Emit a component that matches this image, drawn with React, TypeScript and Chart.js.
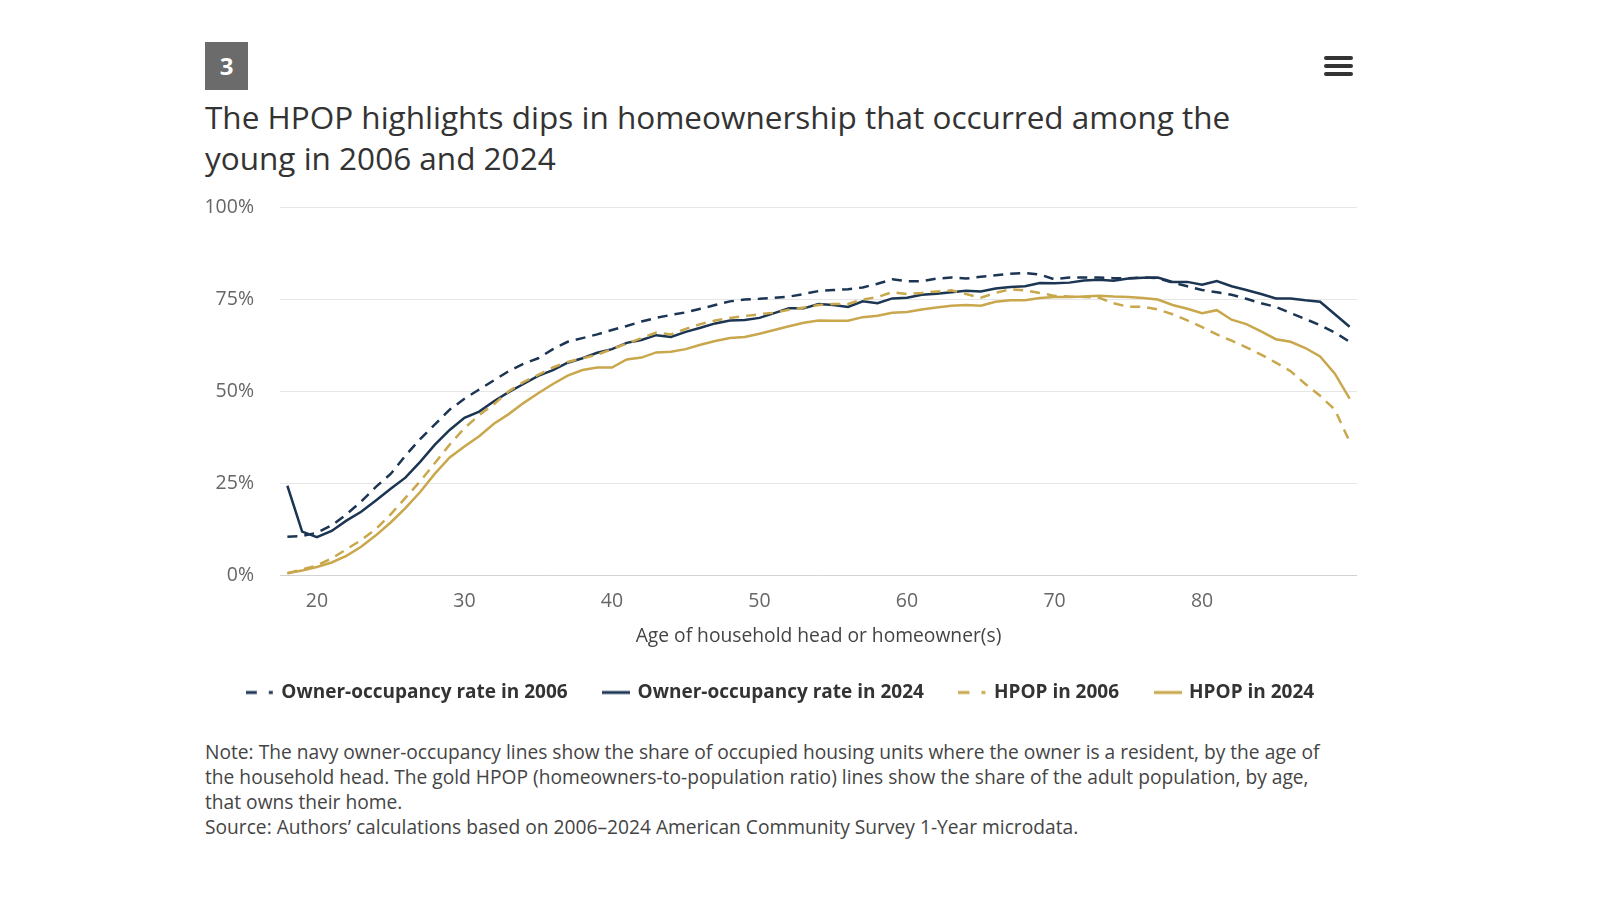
import React, { useEffect, useRef } from "react";
import { Chart, registerables } from "chart.js";

Chart.register(...registerables);

const ages = [
  18, 19, 20, 21, 22, 23, 24, 25, 26, 27, 28, 29, 30, 31, 32, 33, 34, 35, 36, 37,
  38, 39, 40, 41, 42, 43, 44, 45, 46, 47, 48, 49, 50, 51, 52, 53, 54, 55, 56, 57,
  58, 59, 60, 61, 62, 63, 64, 65, 66, 67, 68, 69, 70, 71, 72, 73, 74, 75, 76, 77,
  78, 79, 80, 81, 82, 83, 84, 85, 86, 87, 88, 89, 90,
];

const ownerOcc2006 = [
  10.4, 10.6, 11.5, 13.5, 16.5, 20, 24, 27.5, 32.5, 37, 41, 45, 48, 50.5, 53, 55.5, 57.5, 59, 61.5, 63.5,
  64.5, 65.5, 66.7, 67.8, 69, 70, 70.8, 71.5, 72.5, 73.5, 74.5, 75, 75.2, 75.5, 75.8, 76.5, 77.3, 77.6, 77.8, 78.3,
  79.3, 80.5, 80, 80, 80.7, 81, 80.7, 81.2, 81.6, 82, 82.2, 81.8, 80.5, 81, 81, 81, 80.8, 80.8, 81, 80.8,
  79.6, 78.6, 77.6, 77, 76.3, 75.2, 74, 73, 71.3, 69.7, 68, 66, 63.5,
];

const ownerOcc2024 = [
  24.3, 11.8, 10.3, 12, 14.8, 17.2, 20.3, 23.5, 26.5, 30.8, 35.5, 39.5, 42.8, 44.5, 47.3, 49.8, 52, 54.2, 55.8, 57.8,
  59, 60.5, 61.5, 63.2, 64, 65.3, 64.8, 66.2, 67.3, 68.5, 69.3, 69.4, 70, 71.3, 72.6, 72.6, 73.8, 73.5, 73, 74.5,
  74, 75.3, 75.5, 76.3, 76.6, 77, 77.4, 77.2, 78, 78.4, 78.6, 79.5, 79.4, 79.6, 80.2, 80.4, 80.1, 80.7, 80.9, 81,
  79.8, 79.8, 79, 80, 78.6, 77.6, 76.5, 75.3, 75.3, 74.8, 74.4, 71, 67.6,
];

const hpop2006 = [
  0.5, 1.5, 2.6, 4.5, 7, 9.5, 12.5, 16.5, 21, 25.5, 30.5, 35.5, 40, 43.5, 46.5, 50, 52.5, 54.5, 56.5, 58,
  59, 60, 61.5, 63, 64.5, 66, 65.5, 67, 68.3, 69.3, 70, 70.5, 71, 71.4, 72.2, 72.8, 73.5, 73.8, 73.8, 75,
  75.7, 77, 76.5, 76.8, 77.2, 77.5, 76.5, 75.5, 76.8, 77.8, 77.5, 76.8, 76, 75.8, 75.7, 75.5, 74, 73, 73, 72.3,
  71, 69.3, 67.5, 65.5, 63.8, 62, 60, 57.8, 55.5, 52, 48.8, 45, 36.3,
];

const hpop2024 = [
  0.5, 1.2, 2.2, 3.4, 5.2, 7.7, 10.8, 14.3, 18.2, 22.6, 27.6, 32, 35, 37.8, 41.2, 43.8, 46.8, 49.5, 52, 54.3,
  55.8, 56.5, 56.5, 58.7, 59.2, 60.6, 60.8, 61.5, 62.7, 63.7, 64.5, 64.8, 65.7, 66.7, 67.7, 68.7, 69.3, 69.2, 69.2, 70.2,
  70.6, 71.4, 71.6, 72.3, 72.8, 73.3, 73.5, 73.3, 74.4, 74.8, 74.8, 75.4, 75.7, 75.7, 75.8, 76, 75.8, 75.7, 75.4, 75,
  73.5, 72.5, 71.3, 72.1, 69.5, 68.3, 66.3, 64.2, 63.5, 61.8, 59.5, 54.8, 48,
];

const seriesLabels = [
  "Owner-occupancy rate in 2006",
  "Owner-occupancy rate in 2024",
  "HPOP in 2006",
  "HPOP in 2024",
];

const xTicks = [20, 30, 40, 50, 60, 70, 80];
const yTicks = [0, 25, 50, 75, 100];

const titleLines = [
  "The HPOP highlights dips in homeownership that occurred among the",
  "young in 2006 and 2024",
];
const noteLines = [
  "Note: The navy owner-occupancy lines show the share of occupied housing units where the owner is a resident, by the age of",
  "the household head. The gold HPOP (homeowners-to-population ratio) lines show the share of the adult population, by age,",
  "that owns their home.",
  "Source: Authors’ calculations based on 2006–2024 American Community Survey 1-Year microdata.",
];
const xAxisTitle = "Age of household head or homeowner(s)";

const NAVY = "#1b3553";
const GOLD = "#c9a74c";
const FONT = "'Open Sans', 'Noto Sans', sans-serif";
const DASH = [10, 7];

function makeSymbol(color: string, dashed: boolean): HTMLCanvasElement {
  const c = document.createElement("canvas");
  c.width = 28;
  c.height = 6;
  const ctx = c.getContext("2d")!;
  ctx.strokeStyle = color;
  ctx.lineWidth = 3;
  ctx.beginPath();
  if (dashed) {
    ctx.moveTo(0, 3);
    ctx.lineTo(11, 3);
    ctx.moveTo(23, 3);
    ctx.lineTo(27, 3);
  } else {
    ctx.moveTo(0, 3);
    ctx.lineTo(28, 3);
  }
  ctx.stroke();
  return c;
}

function toPoints(values: number[]) {
  return ages.map((a, i) => ({ x: a, y: values[i] }));
}

function LineChart() {
  const ref = useRef<HTMLCanvasElement | null>(null);

  useEffect(() => {
    if (!ref.current) return;
    const specs = [
      { values: ownerOcc2006, color: NAVY, dashed: true },
      { values: ownerOcc2024, color: NAVY, dashed: false },
      { values: hpop2006, color: GOLD, dashed: true },
      { values: hpop2024, color: GOLD, dashed: false },
    ];
    const chart = new Chart(ref.current, {
      type: "line",
      data: {
        datasets: specs.map((s, i) => ({
          label: seriesLabels[i],
          data: toPoints(s.values),
          borderColor: s.color,
          backgroundColor: s.color,
          borderWidth: 2.5,
          borderDash: s.dashed ? DASH : [],
          pointRadius: 0,
          pointHoverRadius: 0,
          pointStyle: makeSymbol(s.color, s.dashed),
          tension: 0,
          fill: false,
          order: specs.length - i,
        })),
      },
      options: {
        animation: false,
        responsive: false,
        maintainAspectRatio: false,
        events: [],
        layout: { padding: { top: 0, right: 25, bottom: 0, left: 25 } },
        plugins: {
          legend: {
            position: "bottom",
            align: "center",
            labels: {
              usePointStyle: true,
              pointStyleWidth: 24,
              padding: 36.5,
              color: "#333333",
              font: { family: FONT, size: 19, weight: "bold" },
              sort: (a: any, b: any) => a.datasetIndex - b.datasetIndex,
            },
          },
          tooltip: { enabled: false },
        },
        scales: {
          x: {
            type: "linear",
            min: 17.5,
            max: 90.5,
            afterBuildTicks: (s: any) => {
              s.ticks = xTicks.map((v) => ({ value: v }));
            },
            afterFit: (s: any) => {
              s.height = 71.5;
            },
            grid: { display: false, drawTicks: false },
            border: { display: false },
            ticks: {
              padding: 14.3,
              color: "#666666",
              autoSkip: false,
              maxRotation: 0,
              font: { family: FONT, size: 19.5, lineHeight: 1.2 },
            },
            title: {
              display: true,
              text: xAxisTitle,
              color: "#444444",
              font: { family: FONT, size: 19.25, lineHeight: 1.2 },
              padding: { top: 0, bottom: -2 },
            },
          },
          y: {
            min: 0,
            max: 100,
            afterBuildTicks: (s: any) => {
              s.ticks = yTicks.map((v) => ({ value: v }));
            },
            afterFit: (s: any) => {
              s.width = 75;
            },
            grid: {
              drawTicks: false,
              color: (ctx: any) => (ctx.tick && ctx.tick.value === 0 ? "#d2d2d2" : "#e6e6e6"),
              lineWidth: 1,
            },
            border: { display: false },
            ticks: {
              padding: 26,
              color: "#666666",
              font: { family: FONT, size: 19.5, lineHeight: 1.2 },
              callback: (v: any) => `${v}%`,
            },
          },
        },
      },
    });
    return () => chart.destroy();
  }, []);

  return (
    <canvas
      ref={ref}
      width={1202}
      height={542}
      style={{ position: "absolute", left: 180, top: 170, width: 1202, height: 542 }}
    />
  );
}

export default function App() {
  return (
    <div
      style={{
        position: "absolute",
        left: 0,
        top: 0,
        width: 1600,
        height: 900,
        background: "#ffffff",
        fontFamily: FONT,
        overflow: "hidden",
      }}
    >
      <div
        style={{
          position: "absolute",
          left: 205,
          top: 42,
          width: 43,
          height: 48,
          background: "#6b6b6b",
          color: "#ffffff",
          fontWeight: 700,
          fontSize: 24,
          lineHeight: "48px",
          textAlign: "center",
        }}
      >
        3
      </div>
      {[56, 64, 72].map((t) => (
        <div
          key={t}
          style={{
            position: "absolute",
            left: 1324,
            top: t,
            width: 29,
            height: 4,
            borderRadius: 2,
            background: "#333333",
          }}
        />
      ))}
      <div
        style={{
          position: "absolute",
          left: 205,
          top: 96,
          fontSize: 31.5,
          lineHeight: "41px",
          color: "#333333",
          whiteSpace: "nowrap",
        }}
      >
        {titleLines.map((l, i) => (
          <div key={i}>{l}</div>
        ))}
      </div>
      <LineChart />
      <div
        style={{
          position: "absolute",
          left: 205,
          top: 738.5,
          fontSize: 19.2,
          lineHeight: "25px",
          color: "#444444",
          whiteSpace: "nowrap",
        }}
      >
        {noteLines.map((l, i) => (
          <div key={i}>{l}</div>
        ))}
      </div>
    </div>
  );
}
